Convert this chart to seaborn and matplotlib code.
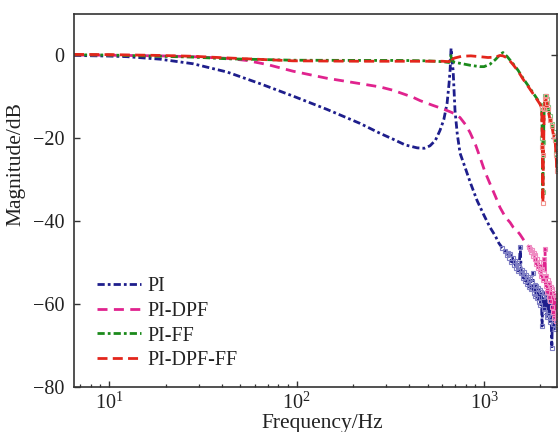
import matplotlib
matplotlib.use("Agg")
import matplotlib.pyplot as plt
from matplotlib.lines import Line2D
import pandas as pd
import seaborn as sns

# ---------------- data ----------------
series_names = ["PI", "PI-DPF", "PI-FF", "PI-DPF-FF"]

f_pi = [6.5, 10, 12.5, 18.7, 28, 42.6, 63.8, 95.7, 145, 218, 279, 327, 380, 440, 480,
        515, 550, 582, 610, 635, 650, 659, 667, 676, 684, 700, 720, 745, 792, 850, 918,
        1000, 1077, 1150, 1200, 1250,
        1300, 1320, 1340, 1360, 1380, 1400, 1420, 1440, 1460, 1480, 1500, 1520, 1540,
        1560, 1580, 1600, 1620, 1640, 1660, 1680, 1700, 1720, 1740, 1760, 1780, 1800,
        1820, 1840, 1860, 1880, 1900, 1920, 1940, 1960, 1980, 2000, 2020, 2040, 2060,
        2080, 2100, 2120, 2140, 2160, 2180, 2200, 2220, 2240, 2260, 2280, 2300, 2320,
        2340, 2360, 2380, 2400, 2420, 2440, 2460, 2480, 2500]
mag_pi = [0.0, -0.15, -0.3, -0.9, -2.0, -4.0, -6.8, -9.8, -13.0, -16.4, -18.8, -20.2,
          -21.6, -22.3, -22.4, -21.8, -20.5, -18.1, -15.5, -11.6, -7.0, -3.6, 1.7, -1.5,
          -3.6, -13.3, -19.0, -23.6, -27.0, -31.0, -35.0, -38.6, -41.5, -43.6, -45.3,
          -46.4,
          -47.2, -48.1, -47.6, -48.9, -48.0, -49.8, -48.9, -50.6, -49.7, -51.4, -50.2,
          -52.0, -50.9, -46.3, -52.6, -51.8, -53.7, -52.2, -54.4, -52.9, -55.1, -53.5,
          -55.9, -54.0, -56.4, -54.6, -52.4, -57.2, -55.3, -58.0, -55.6, -58.6, -56.2,
          -59.4, -56.5, -60.1, -57.0, -65.3, -58.2, -61.3, -57.4, -62.0, -58.0, -63.1,
          -57.8, -62.6, -58.9, -64.2, -59.1, -63.0, -70.6, -59.5, -64.8, -60.2, -66.0,
          -59.0, -63.7, -60.4, -65.5, -59.8, -62.5]

f_dpf = [6.5, 10, 18.7, 28, 42.6, 54, 70, 95.7, 145, 218, 279, 327, 418, 456, 530, 604,
         660, 700, 745, 800, 842, 900, 952, 1010, 1077, 1150, 1217, 1300, 1377, 1428,
         1500, 1556, 1620, 1695, 1740,
         1760, 1780, 1800, 1820, 1840, 1860, 1880, 1900, 1920, 1940, 1960, 1980, 2000,
         2020, 2040, 2060, 2080, 2100, 2115, 2130, 2150, 2170, 2190, 2210, 2230, 2250,
         2270, 2290, 2310, 2330, 2350, 2370, 2390, 2410, 2430, 2450, 2470, 2490, 2500]
mag_dpf = [0.1, 0.05, -0.1, -0.3, -0.7, -1.2, -2.2, -3.8, -5.5, -6.8, -7.6, -8.4, -10.1,
           -10.9, -12.0, -12.9, -13.6, -14.1, -15.0, -16.8, -18.6, -21.5, -24.6, -28.0,
           -31.0, -34.0, -36.7, -39.0, -40.3, -41.4, -42.3, -43.2, -44.4, -45.8, -46.2,
           -46.6, -47.4, -46.9, -48.3, -47.6, -49.2, -48.1, -50.3, -49.0, -51.2, -49.8,
           -52.0, -50.7, -53.1, -51.5, -54.2, -52.4, -49.0, -46.6, -55.6, -53.2, -57.0,
           -54.1, -58.2, -55.0, -59.3, -55.8, -60.6, -56.4, -62.0, -57.3, -63.4, -57.9,
           -64.1, -58.6, -63.0, -59.3, -62.4, -60.5]

f_ff = [6.5, 10, 18.7, 28, 42.6, 95.7, 218, 357, 500, 600, 650, 662, 667, 672, 690, 745,
        850, 950, 1000, 1077, 1150, 1217, 1262, 1330, 1428, 1520, 1614, 1720, 1824, 1920,
        1991, 2030, 2045, 2060, 2075, 2095, 2120, 2140, 2160, 2190, 2250, 2300, 2350,
        2393, 2430, 2470, 2500]
mag_ff = [0.15, 0.1, -0.2, -0.4, -0.8, -1.15, -1.2, -1.2, -1.3, -1.5, -1.7, -1.2, 0.3,
          -1.0, -1.6, -1.9, -2.4, -2.7, -2.7, -2.1, -1.0, 0.2, 0.7, -0.3, -2.0, -3.6,
          -5.5, -7.3, -9.0, -10.5, -11.6, -12.5, -20.0, -33.0, -21.0, -12.0, -9.8, -9.7,
          -10.5, -12.5, -14.5, -16.5, -18.5, -20.5, -23.5, -27.5, -25.5]

f_dpfff = [6.5, 10, 18.7, 28, 42.6, 95.7, 218, 400, 600, 650, 662, 667, 675, 700, 760,
           850, 950, 1050, 1150, 1217, 1262, 1330, 1428, 1520, 1614, 1720, 1824, 1920,
           1991, 2030, 2045, 2060, 2075, 2095, 2120, 2140, 2160, 2190, 2250, 2300, 2350,
           2393, 2420, 2450, 2480, 2500]
mag_dpfff = [0.25, 0.2, 0.0, -0.2, -0.6, -1.3, -1.4, -1.4, -1.4, -1.5, -1.0, -0.4, -0.9,
             -0.6, -0.2, -0.1, -0.3, -0.5, -0.4, 0.0, -0.1, -0.6, -2.2, -3.8, -5.7, -7.5,
             -9.2, -10.7, -11.8, -12.7, -22.0, -35.5, -24.0, -13.0, -10.5, -9.8, -11.5,
             -13.0, -15.5, -17.0, -19.5, -20.5, -24.0, -28.0, -22.0, -21.0]

x_ticks = [10, 100, 1000]
y_ticks = [-80, -60, -40, -20, 0]

# ---------------- style ----------------
colors = ["#1e1e8c", "#e0238e", "#1b8a1b", "#e3261c"]
marker_edges = ["#7f7fc4", "#ef8cc2", "#86c686", "#f29690"]
noise_start = [1250, 1740, 2000, 2000]
line_styles = [(0, (2.6, 1.1, 1.0, 1.1)), (0, (3.6, 2.3)),
               (0, (2.6, 1.1, 1.0, 1.1)), (0, (3.6, 1.9))]

sns.set_theme(style="ticks")
plt.rcParams["font.family"] = ["Liberation Serif", "DejaVu Serif"]
plt.rcParams["mathtext.fontset"] = "custom"
plt.rcParams["mathtext.rm"] = "Liberation Serif"
plt.rcParams["mathtext.it"] = "Liberation Serif:italic"
plt.rcParams["mathtext.bf"] = "Liberation Serif:bold"
plt.rcParams["axes.unicode_minus"] = True

fig = plt.figure(figsize=(5.59, 4.32), dpi=100)
ax = fig.add_axes([74 / 559, 1 - 387 / 432, (557 - 74) / 559, (387 - 14) / 432])

all_f = [f_pi, f_dpf, f_ff, f_dpfff]
all_m = [mag_pi, mag_dpf, mag_ff, mag_dpfff]
handles = []
for name, f, m, c, mec, start, ls in zip(series_names, all_f, all_m, colors,
                                         marker_edges, noise_start, line_styles):
    df = pd.DataFrame({"f": f, "mag": m})
    idx = [i for i, v in enumerate(f) if v >= start]
    sns.lineplot(data=df, x="f", y="mag", ax=ax, color=c, linewidth=2.0,
                 linestyle=ls, marker="s", markersize=3.4, markerfacecolor="none",
                 markeredgecolor=mec, markeredgewidth=0.8, markevery=idx,
                 estimator=None, sort=False)
    handles.append(Line2D([], [], color=c, linewidth=2.0, linestyle=ls, label=name))

ax.set_xscale("log")
ax.set_xlim(6.5, 2450)
ax.set_ylim(-80, 10)
ax.set_xticks(x_ticks)
ax.set_yticks(y_ticks)

for s in ax.spines.values():
    s.set_color("#333333")
    s.set_linewidth(1.2)
ax.tick_params(axis="both", which="both", direction="in", colors="#333333",
               labelcolor="#222222", labelsize=14.5, right=True, top=False)
ax.tick_params(axis="both", which="major", length=4, width=1)
ax.tick_params(axis="x", which="minor", length=2.2, width=0.9)
ax.tick_params(axis="y", which="major", pad=7)
ax.tick_params(axis="x", which="major", pad=4)

ax.set_xlabel("Frequency/Hz", fontsize=15.5, color="#222222")
ax.set_ylabel("Magnitude/dB", fontsize=15.5, color="#222222")
ax.xaxis.set_label_coords(0.513, -0.072)
ax.yaxis.set_label_coords(-0.100, 0.598)

leg = ax.legend(handles=handles, loc="upper left", bbox_to_anchor=(0.048, 0.295),
                frameon=False, fontsize=14.5, handlelength=2.2, handletextpad=0.3,
                labelspacing=0.28, borderpad=0, borderaxespad=0)
for t in leg.get_texts():
    t.set_color("#222222")

fig.savefig("out.png", dpi=100)
